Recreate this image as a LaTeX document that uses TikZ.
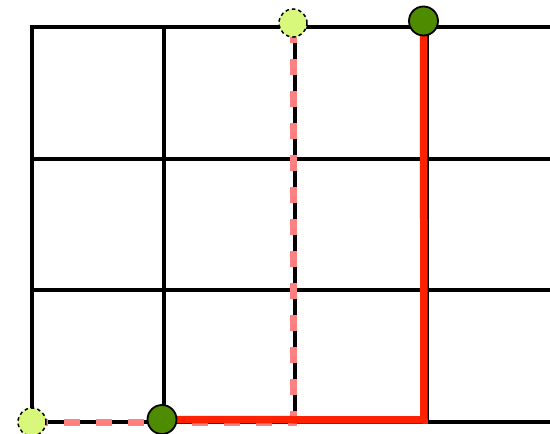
\documentclass[tikz,border=0pt]{standalone}
\definecolor{gridblack}{HTML}{000000}
\definecolor{pathred}{HTML}{FF2200}
\definecolor{pathpink}{HTML}{FF8080}
\definecolor{dotgreen}{HTML}{4E8B00}
\definecolor{dotlight}{HTML}{D8F87C}
\tikzset{
  gridline/.style={line width=4pt, draw=gridblack},
  redpath/.style={line width=7.5pt, draw=pathred},
  pinkpath/.style={line width=7pt, draw=pathpink, dash pattern=on 16pt off 16pt},
  solidpt/.style={circle, fill=dotgreen, draw=black, line width=1.8pt, minimum size=29pt, inner sep=0pt},
  ghostpt/.style={circle, fill=dotlight, draw=black, line width=1.5pt, dash pattern=on 3.5pt off 3pt, minimum size=28pt, inner sep=0pt}
}
\begin{document}
\begin{tikzpicture}[x=1pt,y=-1pt]
\useasboundingbox (0,0) rectangle (550,434);
% grid
\foreach \yy in {27,158.5,290,421.5} \draw[gridline] (30,\yy) -- (552,\yy);
\foreach \xx in {32,163.5,295,426.5} \draw[gridline] (\xx,25) -- (\xx,423.5);
% anchor coordinates
\coordinate (sA) at (32,422);
\coordinate (sC) at (293,422);
\coordinate (sB) at (293,23);
\coordinate (gA) at (162,419.5);
\coordinate (gC) at (424,420);
\coordinate (gB) at (423.5,21);
% paths
\draw[pinkpath] (sA) -- (sC) -- (sB);
\draw[redpath] (gA) -- (gC) -- (gB);
% points
\node[ghostpt] (s1) at (sA) {};
\node[ghostpt] (s2) at (sB) {};
\node[solidpt] (g1) at (gA) {};
\node[solidpt] (g2) at (gB) {};
\end{tikzpicture}
\end{document}
